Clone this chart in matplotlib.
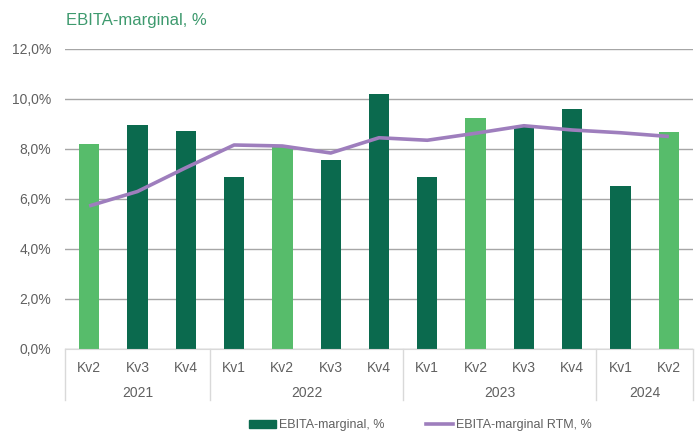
import numpy as np
import matplotlib.pyplot as plt
from matplotlib.patches import Patch
from matplotlib.lines import Line2D

plt.rcParams['font.family'] = ['Liberation Sans', 'DejaVu Sans']

quarters = ["Kv2", "Kv3", "Kv4", "Kv1", "Kv2", "Kv3", "Kv4",
            "Kv1", "Kv2", "Kv3", "Kv4", "Kv1", "Kv2"]
years = ["2021", "2022", "2023", "2024"]
year_sizes = [3, 4, 4, 2]
margin = [8.2, 8.95, 8.72, 6.88, 8.1, 7.56, 10.2, 6.88, 9.24, 8.9, 9.6, 6.52, 8.67]
margin_rtm = [5.72, 6.3, 7.25, 8.16, 8.12, 7.84, 8.45, 8.35, 8.63, 8.93, 8.76, 8.65, 8.5]
light = [True, False, False, False, True, False, False, False, True, False, False, False, True]

dark_green = "#0b6a4e"
light_green = "#57bc6b"
purple = "#9e7ebd"
txt = "#606060"

fig = plt.figure(figsize=(6.99, 4.32), dpi=100)
ax = fig.add_axes([65 / 699, 1 - 349 / 432, 628 / 699, 300 / 432])

x = np.arange(len(quarters))
cols = [light_green if l else dark_green for l in light]
ax.bar(x, margin, width=0.42, color=cols, zorder=2)
ax.plot(x, margin_rtm, color=purple, lw=2.6, zorder=3, solid_capstyle="butt")

ax.set_xlim(-0.5, len(quarters) - 0.5)
ax.set_ylim(0, 12)
ax.set_yticks(np.arange(0, 12.1, 2))
ax.set_yticklabels([f"{v:.1f}%".replace(".", ",") for v in np.arange(0, 12.1, 2)],
                   color=txt, fontsize=10)
ax.yaxis.grid(True, color="#a6a6a6", lw=1, zorder=0)
ax.tick_params(axis="y", length=0, pad=10)
ax.tick_params(axis="x", length=0)
ax.set_xticks([])
for s in ["top", "right", "left"]:
    ax.spines[s].set_visible(False)
ax.spines["bottom"].set_color("#d9d9d9")

trans = ax.get_xaxis_transform()
for i, q in enumerate(quarters):
    ax.text(i, -19 / 300, q, transform=trans, ha="center", va="center",
            color=txt, fontsize=10)
edges = np.concatenate([[0], np.cumsum(year_sizes)]) - 0.5
for j, y in enumerate(years):
    mid = (edges[j] + edges[j + 1]) / 2
    ax.text(mid, -44 / 300, y, transform=trans, ha="center", va="center",
            color=txt, fontsize=10)
for e in edges:
    ax.plot([e, e], [0, -51 / 300], transform=trans, color="#d9d9d9", lw=1,
            clip_on=False)

fig.text(66 / 699, 1 - 20 / 432, "EBITA-marginal, %", color="#3e9a6e",
         fontsize=12, va="center", ha="left")

handles = [Patch(color=dark_green, label="EBITA-marginal, %"),
           Line2D([], [], color=purple, lw=2.6, label="EBITA-marginal RTM, %")]
fig.legend(handles=handles, loc="center", bbox_to_anchor=(420 / 699, 1 - 425 / 432),
           ncol=2, frameon=False, fontsize=9, labelcolor=txt,
           handlelength=2.2, handleheight=0.6, columnspacing=3.3, handletextpad=0.2)

fig.savefig("out.png", dpi=100)
